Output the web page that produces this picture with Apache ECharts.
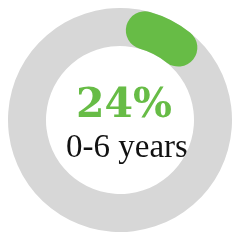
<!DOCTYPE html>
<html>
<head>
<meta charset="utf-8">
<style>
  html, body { margin: 0; padding: 0; background: #fff; }
  #chart { width: 241px; height: 240px; }
</style>
<script src="https://cdn.jsdelivr.net/npm/echarts@6/dist/echarts.min.js"></script>
</head>
<body>
<div id="chart"></div>
<script>
// headline share shown in the middle
const shareValue = 24;
const shareLabel = '0-6 years';
// green arc as drawn, in percent of the full circle, clockwise from 12 o'clock
// (centre line of the stroke; the round caps stick out past both ends)
const arcStartPct = 4.3;
const arcEndPct = 10.8;

const GREEN = '#67bc46';
const GREY = '#d7d7d7';

const startDeg = 90 - arcStartPct * 3.6;

const chart = echarts.init(document.getElementById('chart'));

chart.setOption({
  animation: false,
  series: [
    {
      type: 'gauge',
      silent: true,
      center: [120, 120],
      radius: 112,
      startAngle: startDeg,
      endAngle: startDeg - 360,
      clockwise: true,
      min: 0,
      max: 100,
      axisLine: {lineStyle: {width: 38, color: [[1, GREY]]}},
      progress: {show: true, width: 38, roundCap: true, itemStyle: {color: GREEN}},
      pointer: {show: false},
      anchor: {show: false},
      axisTick: {show: false},
      splitLine: {show: false},
      axisLabel: {show: false},
      title: {show: false},
      detail: {show: false},
      data: [{value: arcEndPct - arcStartPct}],
    },
  ],
  graphic: [
    {
      type: 'text',
      x: 124,
      y: 127,
      style: {
        text: shareValue + '%',
        fill: GREEN,
        font: 'bold 41px "DejaVu Serif"',
        textAlign: 'center',
        textVerticalAlign: 'bottom',
      },
    },
    {
      type: 'text',
      x: 127,
      y: 165,
      style: {
        text: shareLabel,
        fill: '#111',
        font: '33px "Liberation Serif"',
        textAlign: 'center',
        textVerticalAlign: 'bottom',
      },
    },
  ],
});
</script>
</body>
</html>
